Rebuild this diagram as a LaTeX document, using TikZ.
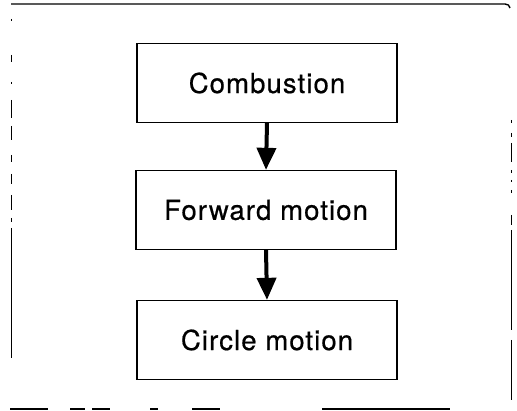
\documentclass[tikz,border=0pt]{standalone}
\usepackage{fontspec}
\setmainfont{TeX Gyre Heros}[LetterSpace=4,FakeBold=0.6]
\usetikzlibrary{arrows.meta}
\begin{document}
\begin{tikzpicture}[x=1pt,y=-1pt,
  stepbox/.style={draw,line width=1.3pt,minimum width=260pt,minimum height=79pt,inner sep=0pt,font=\fontsize{27.5}{32}\selectfont},
  flow/.style={line width=4pt,-{Triangle[width=19pt,length=22pt]}},
  frame/.style={line width=1pt},
  scrap/.style={line width=2pt}]
\useasboundingbox (0,0) rectangle (517,411);
\fill[white] (0,0) rectangle (517,411);
% frame
\draw[frame,line width=1.4pt] (11,4) -- (505,4) to[out=0,in=90] (510,8);
\draw[frame] (511,120) -- (511,123);
\draw[frame] (511,133) -- (511,137);
\draw[frame] (511,143) -- (511,162);
\draw[frame] (511,170) -- (511,173);
\draw[frame] (511,180) -- (511,182);
\draw[frame] (511,190) -- (511,193);
\draw[frame] (511,215) -- (511,225);
\draw[frame] (511,230) -- (511,330);
\draw[frame] (511,340) -- (511,400);
\draw[frame] (11,19) -- (11,21);
\draw[frame] (11,55) -- (11,62);
\draw[frame] (11,82) -- (11,84);
\draw[frame] (11,100) -- (11,118);
\draw[frame] (11,126) -- (11,140);
\draw[frame] (11,155) -- (11,162);
\draw[frame] (11,174) -- (11,184);
\draw[frame] (11,195) -- (11,210);
\draw[frame] (11,218) -- (11,222);
\draw[frame] (11,228) -- (11,358);
\draw[scrap] (10,409.5) -- (48,409.5);
\draw[scrap] (70,409.5) -- (85,409.5);
\draw[scrap] (92,409.5) -- (110,409.5);
\draw[scrap] (150,409.5) -- (158,409.5);
\draw[scrap] (192,409.5) -- (220,409.5);
\draw[scrap] (322,409.5) -- (450,409.5);
% boxes
\node[stepbox] (comb) at (267,83) {Combustion};
\node[stepbox] (fwd) at (266,210) {Forward motion};
\node[stepbox] (circ) at (267,340) {Circle motion};
% arrows
\draw[flow] (comb.south) -- (fwd.north);
\draw[flow] (fwd.south) -- (circ.north);
\end{tikzpicture}
\end{document}
